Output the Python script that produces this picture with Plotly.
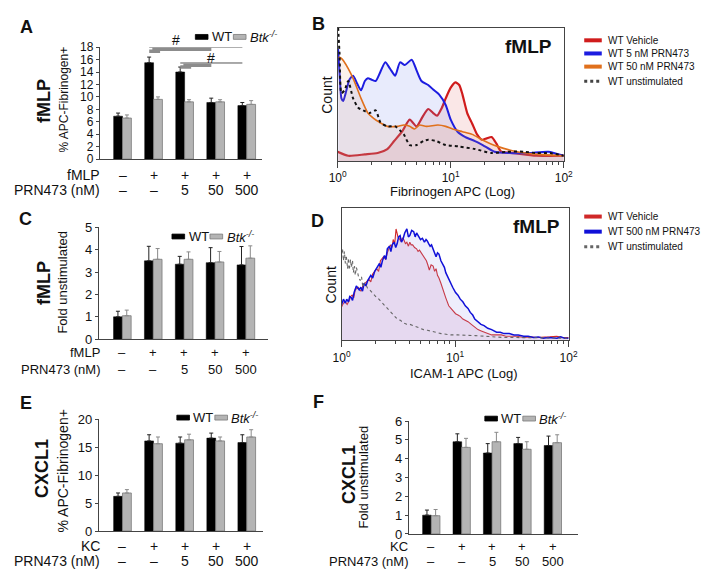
import plotly.graph_objects as go

W, H = 709, 570
FONT = "Arial, 'Liberation Sans', Helvetica, sans-serif"

# ---------------- data ----------------
groups = [0, 1, 2, 3, 4]
fmlp_row = ["–", "+", "+", "+", "+"]
kc_row = ["–", "+", "+", "+", "+"]
prn_row = ["–", "–", "5", "50", "500"]

# Panel A: % APC-Fibrinogen+ (fMLP)
a_wt = [6.9, 15.5, 14.0, 9.1, 8.6]
a_wt_err = [0.5, 0.9, 0.8, 0.7, 0.5]
a_ko = [6.6, 9.6, 9.2, 9.2, 8.8]
a_ko_err = [0.5, 0.4, 0.35, 0.35, 0.6]

# Panel C: fold unstimulated (fMLP)
c_wt = [1.0, 3.5, 3.35, 3.42, 3.32]
c_wt_err = [0.25, 0.65, 0.35, 0.67, 0.82]
c_ko = [1.05, 3.57, 3.57, 3.45, 3.62]
c_ko_err = [0.25, 0.48, 0.33, 0.47, 0.55]

# Panel E: % APC-Fibrinogen+ (CXCL1)
e_wt = [6.2, 16.1, 15.7, 16.6, 15.8]
e_wt_err = [0.6, 1.1, 1.1, 0.9, 1.4]
e_ko = [6.8, 15.6, 16.3, 16.1, 16.8]
e_ko_err = [0.6, 1.2, 1.0, 0.7, 1.3]

# Panel F: fold unstimulated (CXCL1)
f_wt = [1.0, 4.9, 4.3, 4.8, 4.7]
f_wt_err = [0.27, 0.42, 0.5, 0.33, 0.5]
f_ko = [0.97, 4.6, 4.9, 4.5, 4.85]
f_ko_err = [0.33, 0.48, 0.5, 0.4, 0.42]

# Panel B histograms: Fibrinogen APC intensity (x) vs relative count (y)
b_blue_x = [1.01, 1.04, 1.08, 1.12, 1.17, 1.27, 1.37, 1.49, 1.61, 1.74, 1.85, 2.0, 2.17, 2.39, 2.64,
            2.92, 3.23, 3.56, 3.93, 4.52, 4.99, 5.51, 6.32, 7.14, 7.88, 9.03, 10.0, 11.5, 13.5, 16.4,
            19.2, 24.4, 32.9, 49.0, 73.0, 100.0]
b_blue_y = [84, 66, 47, 45, 50, 61, 64, 58, 53, 60, 62, 61, 60, 67, 74,
            69, 64, 74, 72, 76, 68, 60, 57, 53, 50, 42, 31, 22, 18, 15,
            12, 7, 6, 6, 7, 4]
b_red_x = [1.0, 1.24, 1.74, 2.26, 2.75, 3.16, 3.71, 4.34, 4.99, 5.62, 6.32, 7.0, 7.57, 8.36, 9.03,
           10.0, 11.0, 11.9, 12.7, 14.0, 15.5, 17.1, 18.9, 20.8, 23.0, 25.4, 28.0, 36.3, 57.0, 100.0]
b_red_y = [7, 4, 5, 6, 9, 15, 22, 31, 26, 33, 39, 36, 34, 40, 47,
           55, 59, 57, 50, 36, 28, 20, 16, 17, 18, 13, 7, 6, 4, 4]
b_orange_x = [1.02, 1.08, 1.13, 1.37, 1.61, 1.85, 2.08, 2.35, 2.75, 3.36, 3.85, 4.34, 4.8, 5.3, 6.1,
              7.7, 9.03, 10.4, 12.7, 15.5, 18.9, 25.9, 38.6, 59.8, 100.0]
b_orange_y = [78, 77, 75, 62, 47, 36, 32, 29, 26, 26, 27, 26, 24, 27, 26,
              27, 26, 24, 22, 20, 16, 11, 7, 5, 4]
b_unst_x = [1.01, 1.04, 1.08, 1.15, 1.24, 1.37, 1.52, 1.68, 1.92, 2.17, 2.39, 2.75, 3.23, 3.56, 3.85,
            4.34, 4.99, 5.74, 6.32, 7.43, 9.03, 11.7, 16.4, 23.0, 31.6, 44.4, 57.0, 75.8, 100.0]
b_unst_y = [100, 80, 51, 53, 60, 47, 40, 38, 36, 38, 29, 26, 26, 23, 20,
            12, 12, 15, 16, 15, 12, 11, 9, 6, 7, 7, 6, 6, 4]

# Panel D histograms: ICAM-1 APC intensity (x) vs relative count (y)
d_blue_x = [1.0, 1.04, 1.08, 1.11, 1.15, 1.18, 1.22, 1.25, 1.29, 1.35, 1.43, 1.48, 1.53, 1.58, 1.64,
            1.70, 1.81, 1.88, 1.96, 2.08, 2.16, 2.22, 2.29, 2.39, 2.46, 2.53, 2.64, 2.72, 2.79, 2.91,
            3.0, 3.09, 3.18, 3.28, 3.37, 3.47, 3.6, 3.76, 3.88, 3.99, 4.15, 4.32, 4.45, 4.58, 4.76,
            4.96, 5.15, 5.37, 5.55, 5.69, 5.85, 6.03, 6.2, 6.41, 6.6, 6.80, 7.0, 7.21, 7.5, 7.81,
            8.05, 8.28, 8.79, 9.2, 9.52, 10.1, 10.6, 11.1, 11.7, 12.3, 13.0, 13.6, 14.3, 14.9, 15.9,
            16.9, 18.0, 19.4, 21.0, 23.2, 25.0, 27.0, 30.0, 33.0, 36.0, 40.2, 44.0, 49.0, 54.0, 59.8,
            66.0, 72.9, 79.0, 85.0, 92.0, 100.0]
d_blue_y = [27, 31, 28, 31, 29, 33, 32, 30, 36, 41, 38, 40, 37, 43, 41,
            45, 49, 47, 52, 56, 58, 55, 60, 64, 61, 69, 71, 67, 72, 74,
            70, 73, 78, 79, 74, 76, 81, 84, 78, 79, 83, 82, 78, 81, 79,
            76, 77, 74, 76, 75, 73, 71, 72, 69, 66, 63, 66, 65, 60, 57,
            55, 51, 46, 43, 40, 36, 34, 31, 29, 26, 24, 21, 19, 16, 14,
            12, 11, 9, 8, 6, 6, 5, 5, 4, 4, 3, 3, 2, 2.5, 1.5,
            2, 2, 1.5, 2.5, 1.5, 1.5]
d_red_x = [1.0, 1.04, 1.08, 1.12, 1.17, 1.2, 1.24, 1.28, 1.32, 1.40, 1.48, 1.54, 1.61, 1.74, 1.81,
           1.88, 2.04, 2.12, 2.20, 2.34, 2.45, 2.53, 2.69, 2.78, 2.85, 2.94, 3.02, 3.08, 3.14, 3.33,
           3.43, 3.53, 3.65, 3.76, 3.88, 3.99, 4.1, 4.23, 4.4, 4.58, 4.72, 4.86, 5.05, 5.27, 5.45,
           5.59, 5.75, 5.93, 6.15, 6.41, 6.6, 6.80, 7.0, 7.21, 7.5, 7.81, 8.05, 8.28, 8.79, 9.2,
           9.52, 10.1, 10.6, 11.1, 11.7, 12.3, 13.0, 13.9, 14.8, 15.9, 17.0, 18.3, 19.5, 21.0, 23.2,
           25.6, 28.0, 31.1, 35.0, 40.2, 46.0, 52.0, 59.8, 68.0, 78.7, 88.0, 100.0]
d_red_y = [25, 28, 29, 27, 30, 33, 34, 32, 38, 40, 37, 41, 43, 46, 44,
           50, 54, 52, 60, 63, 61, 66, 72, 70, 76, 73, 84, 79, 78, 75,
           77, 76, 73, 74, 71, 74, 72, 72, 70, 69, 67, 68, 66, 64, 62,
           60, 57, 53, 57, 56, 52, 54, 49, 47, 43, 38, 35, 32, 26, 24,
           23, 20, 19, 18, 16, 15, 14, 12, 10, 8, 7, 6, 5, 4, 4,
           4, 3, 3, 3, 2, 2.5, 2, 2, 2.5, 3, 2, 2]
d_unst_x = [1.0, 1.02, 1.04, 1.06, 1.08, 1.1, 1.13, 1.15, 1.17, 1.2, 1.22, 1.25, 1.27, 1.3, 1.32,
            1.35, 1.37, 1.42, 1.46, 1.5, 1.54, 1.59, 1.64, 1.7, 1.77, 1.85, 1.92, 2.0, 2.08, 2.18,
            2.29, 2.4, 2.53, 2.65, 2.79, 2.95, 3.09, 3.3, 3.53, 3.75, 3.99, 4.3, 4.58, 4.9, 5.27,
            5.7, 6.17, 6.8, 7.53, 8.3, 9.19, 10.5, 12.3, 15.0, 18.3, 22.0, 27.0, 35.0, 49.0, 70.0, 100.0]
d_unst_y = [65, 69, 60, 67, 58, 64, 54, 62, 53, 61, 55, 60, 51, 56, 49,
            55, 53, 47, 45, 48, 40, 43, 42, 39, 38, 36, 35, 33, 32, 30,
            28, 26, 24, 22, 20, 18, 16, 15, 13, 12, 12, 11, 10, 9, 8,
            7.5, 7, 6, 5, 4.5, 4, 4, 4, 3.5, 3, 2.5, 2, 2, 2, 1.5, 1.5]

log_tickvals = [1, 10, 100]
log_ticktext = ["10<sup>0</sup>", "10<sup>1</sup>", "10<sup>2</sup>"]
log_minor = [2, 3, 4, 5, 6, 7, 8, 9, 20, 30, 40, 50, 60, 70, 80, 90]


# ---------------- helpers (pixel -> paper) ----------------
def px(x):
    return x / W


def py(y):
    return 1 - y / H


fig = go.Figure()

BLACK = "#000000"
GRAY = "#b4b4b4"
GRAY_EDGE = "#7a7a7a"
AXIS = "#444444"


def add_bars(xa, ya, wt, wt_err, ko, ko_err):
    fig.add_trace(go.Bar(
        x=groups, y=wt, xaxis=xa, yaxis=ya, offsetgroup="wt", name="WT", showlegend=False,
        marker=dict(color=BLACK, line=dict(color=BLACK, width=0.5)),
        error_y=dict(type="data", array=wt_err, arrayminus=[0] * len(wt_err), symmetric=False,
                     color="#222222", thickness=1, width=2)))
    fig.add_trace(go.Bar(
        x=groups, y=ko, xaxis=xa, yaxis=ya, offsetgroup="ko", name="Btk-/-", showlegend=False,
        marker=dict(color=GRAY, line=dict(color=GRAY_EDGE, width=0.8)),
        error_y=dict(type="data", array=ko_err, arrayminus=[0] * len(ko_err), symmetric=False,
                     color="#8a8a8a", thickness=1, width=2)))


add_bars("x", "y", a_wt, a_wt_err, a_ko, a_ko_err)
add_bars("x3", "y3", c_wt, c_wt_err, c_ko, c_ko_err)
add_bars("x5", "y5", e_wt, e_wt_err, e_ko, e_ko_err)
add_bars("x6", "y6", f_wt, f_wt_err, f_ko, f_ko_err)


def add_hist(xa, ya, x, y, color, width, fillcolor, dash="solid"):
    fig.add_trace(go.Scatter(
        x=x, y=y, xaxis=xa, yaxis=ya, mode="lines", showlegend=False,
        line=dict(color=color, width=width, dash=dash, shape="spline", smoothing=0.6),
        fill="tozeroy" if fillcolor else None, fillcolor=fillcolor))


# Panel B
add_hist("x2", "y2", b_red_x, b_red_y, "#d01c1c", 2.2, "rgba(225,120,120,0.18)")
add_hist("x2", "y2", b_blue_x, b_blue_y, "#1c1ce0", 2.0, "rgba(110,130,235,0.16)")
add_hist("x2", "y2", b_orange_x, b_orange_y, "#e0701c", 1.6, "rgba(235,150,90,0.12)")
add_hist("x2", "y2", b_unst_x, b_unst_y, "#111111", 2.0, None, dash="dot")

# Panel D
fig.add_trace(go.Scatter(x=d_red_x, y=d_red_y, xaxis="x4", yaxis="y4", mode="lines", showlegend=False,
                         line=dict(color="#d02828", width=1.1), fill="tozeroy",
                         fillcolor="rgba(215,140,190,0.22)"))
fig.add_trace(go.Scatter(x=d_blue_x, y=d_blue_y, xaxis="x4", yaxis="y4", mode="lines", showlegend=False,
                         line=dict(color="#1010d8", width=1.5), fill="tozeroy",
                         fillcolor="rgba(150,150,235,0.16)"))
fig.add_trace(go.Scatter(x=d_unst_x, y=d_unst_y, xaxis="x4", yaxis="y4", mode="lines", showlegend=False,
                         line=dict(color="#666666", width=1.1, dash="dot")))


# ---------------- axes ----------------
def bar_axes(n, xpx, ypx, xrange, yrange, dtick, tsize=13):
    xs = "xaxis" if n == 1 else f"xaxis{n}"
    ys = "yaxis" if n == 1 else f"yaxis{n}"
    anchor_x = "x" if n == 1 else f"x{n}"
    anchor_y = "y" if n == 1 else f"y{n}"
    fig.layout[xs] = dict(domain=[px(xpx[0]), px(xpx[1])], range=xrange, anchor=anchor_y,
                          showline=True, linecolor=AXIS, linewidth=1, ticks="", showticklabels=False,
                          showgrid=False, zeroline=False, fixedrange=True)
    fig.layout[ys] = dict(domain=[py(ypx[1]), py(ypx[0])], range=yrange, anchor=anchor_x, dtick=dtick,
                          showline=True, linecolor=AXIS, linewidth=1, ticks="outside", ticklen=3,
                          tickcolor=AXIS, tickfont=dict(size=tsize, color="#111"), showgrid=False,
                          zeroline=False, fixedrange=True)


bar_axes(1, (85, 251), (33, 148), [-0.73, 4.48], [0, 18], 2, tsize=12)
bar_axes(3, (84, 258), (218, 333), [-0.76, 4.73], [0, 5], 1)
bar_axes(5, (84, 252), (415, 530), [-0.76, 4.51], [0, 20], 5)
bar_axes(6, (402, 576), (417, 533), [-0.74, 4.84], [0, 6], 1)


def hist_axes(n, xpx, ypx):
    fig.layout[f"xaxis{n}"] = dict(
        type="log", domain=[px(xpx[0]), px(xpx[1])], range=[0, 2], anchor=f"y{n}",
        showline=True, mirror=True, linecolor=AXIS, linewidth=1, ticks="outside", ticklen=6,
        tickcolor=AXIS, tickvals=log_tickvals, ticktext=log_ticktext,
        tickfont=dict(size=12, color="#111"), showgrid=False, zeroline=False,
        minor=dict(tickvals=log_minor, ticks="outside", ticklen=3, tickcolor=AXIS, showgrid=False))
    fig.layout[f"yaxis{n}"] = dict(
        domain=[py(ypx[1]), py(ypx[0])], range=[0, 100], anchor=f"x{n}",
        showline=True, mirror=True, linecolor=AXIS, linewidth=1, ticks="", showticklabels=False,
        showgrid=False, zeroline=False)


hist_axes(2, (329, 561), (13, 150))
hist_axes(4, (333, 566), (198, 334))

# ---------------- annotations ----------------
ann = []


def text(x, y, s, size=13, bold=False, italic=False, xanchor="center", yanchor="middle", angle=0,
         xref="paper", color="#111"):
    if bold:
        s = f"<b>{s}</b>"
    if italic:
        s = f"<i>{s}</i>"
    ann.append(dict(x=x if xref != "paper" else px(x), y=py(y), xref=xref, yref="paper", text=s,
                    showarrow=False, xanchor=xanchor, yanchor=yanchor, textangle=angle,
                    font=dict(size=size, color=color, family=FONT)))


# panel letters
for letter, (lx, ly) in {"A": (10, 12), "B": (309, 9), "C": (9, 210), "D": (308, 212),
                         "E": (9, 398), "F": (309, 397)}.items():
    text(lx, ly, letter, size=18, bold=True)

# rotated stimulus labels
text(27, 88, "fMLP", size=18, bold=True, angle=-90)
text(27, 275, "fMLP", size=18, bold=True, angle=-90)
text(25, 466, "CXCL1", size=18, bold=True, angle=-90)
text(340, 472, "CXCL1", size=18, bold=True, angle=-90)

# y-axis titles
text(48, 87, "% APC-Fibrinogen+", size=12, angle=-90)
text(47, 274, "Fold unstimulated", size=13, angle=-90)
text(47, 468, "% APC-Fibrinogen+", size=14, angle=-90)
text(356, 474, "Fold unstimulated", size=13, angle=-90)
text(318, 82, "Count", size=14, angle=-90)
text(322, 277, "Count", size=14, angle=-90)

# histogram x titles and inset labels
text(447, 181, "Fibrinogen APC (Log)", size=13)
text(459, 368, "ICAM-1 APC (Log)", size=13)
text(525, 32, "fMLP", size=19, bold=True)
text(533, 217, "fMLP", size=19, bold=True)


# condition rows under bar charts
def rows(xref, stim_name, stim, y1, y2, right, size=14):
    text(right, y1, stim_name, size=size, xanchor="right")
    text(right, y2, "PRN473 (nM)", size=size, xanchor="right")
    for g, s1, s2 in zip(groups, stim, prn_row):
        text(g, y1, s1, size=size, xref=xref)
        text(g, y2, s2, size=size, xref=xref)


rows("x", "fMLP", fmlp_row, 164, 180, 87)
rows("x3", "fMLP", fmlp_row, 347, 364, 87, size=13)
rows("x5", "KC", kc_row, 545, 561, 87)
rows("x6", "KC", kc_row, 546, 561, 403, size=13)

shapes = []


def rect(x0, y0, x1, y1, fill, line=None):
    shapes.append(dict(type="rect", xref="paper", yref="paper", x0=px(x0), x1=px(x1), y0=py(y1),
                       y1=py(y0), fillcolor=fill, line=dict(color=line or fill, width=0.8)))


def hline(x0, x1, y, color, width, dash="solid"):
    shapes.append(dict(type="line", xref="paper", yref="paper", x0=px(x0), x1=px(x1), y0=py(y),
                       y1=py(y), line=dict(color=color, width=width, dash=dash)))


# bar legends
for bx, by in [(183, 22.5), (159, 227.5), (164, 413.5), (480, 414.5)]:
    rect(bx, by - 2.5, bx + 13, by + 2.5, BLACK)
    text(bx + 15, by, "WT", size=13, xanchor="left")
    rect(bx + 39, by - 2.5, bx + 52, by + 2.5, GRAY, GRAY_EDGE)
    text(bx + 54, by, "Btk<sup>-/-</sup>", size=13, italic=True, xanchor="left")

# histogram legends
b_leg = [("WT Vehicle", "#d01c1c", "solid"), ("WT 5 nM PRN473", "#1c1ce0", "solid"),
         ("WT 50 nM PRN473", "#e0701c", "solid"), ("WT unstimulated", "#444444", "dot")]
for (lab, col, dash), yy in zip(b_leg, [26, 39.5, 53, 68]):
    hline(582, 600, yy, col, 4 if dash == "solid" else 3, dash)
    text(604, yy, lab, size=10, xanchor="left")
d_leg = [("WT Vehicle", "#d02828", "solid"), ("WT 500 nM PRN473", "#1010d8", "solid"),
         ("WT unstimulated", "#666666", "dot")]
for (lab, col, dash), yy in zip(d_leg, [207, 222.5, 238]):
    hline(582, 600, yy, col, 4 if dash == "solid" else 3, dash)
    text(604, yy, lab, size=10, xanchor="left")

# significance brackets in panel A (data coordinates)
for gx0, y_thin, y_thick in [(0.86, 18.0, 17.65), (1.86, 15.45, 15.1)]:
    shapes.append(dict(type="line", xref="x", yref="y", x0=gx0, x1=3.86, y0=y_thin, y1=y_thin,
                       line=dict(color="#555555", width=1)))
    shapes.append(dict(type="line", xref="x", yref="y", x0=gx0 + 0.1, x1=2.86, y0=y_thick, y1=y_thick,
                       line=dict(color="#8c8c8c", width=3.5)))
    shapes.append(dict(type="line", xref="x", yref="y", x0=gx0, x1=gx0 + 0.35, y0=y_thick - 0.3,
                       y1=y_thick - 0.3, line=dict(color="#8c8c8c", width=3.5)))
text(163, 26, "#", size=14)
text(199, 44, "#", size=14)

fig.update_layout(
    width=W, height=H, margin=dict(l=0, r=0, t=0, b=0),
    paper_bgcolor="white", plot_bgcolor="white",
    barmode="group", bargap=0.43, bargroupgap=0,
    font=dict(family=FONT, color="#111"),
    annotations=ann, shapes=shapes, showlegend=False,
)

fig.write_html("out.html")
